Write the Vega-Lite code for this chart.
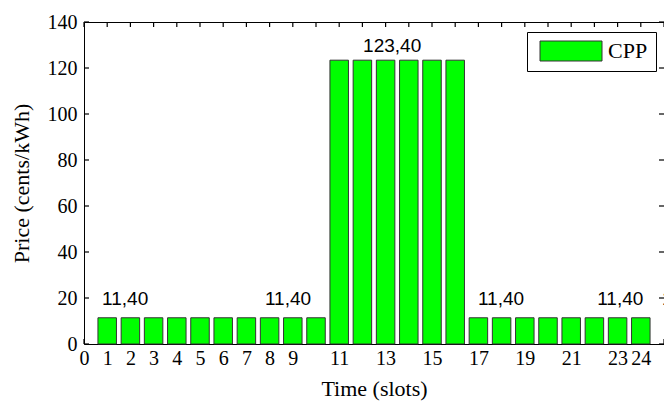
{
  "$schema": "https://vega.github.io/schema/vega-lite/v6.json",
  "width": 580,
  "height": 322,
  "autosize": "none",
  "padding": {"left": 84, "top": 22, "right": 0, "bottom": 59},
  "background": "white",
  "config": {
    "view": {"stroke": "black", "strokeWidth": 1},
    "axis": {"labelFont": "Liberation Serif", "titleFont": "Liberation Serif", "labelFontSize": 20, "titleFontSize": 22, "titleFontWeight": "normal", "labelColor": "black", "titleColor": "black", "domain": false, "ticks": false, "grid": false}
  },
  "datasets": {
    "prices": [
      {"slot": 1, "price": 11.4, "series": "CPP"}, {"slot": 2, "price": 11.4, "series": "CPP"},
      {"slot": 3, "price": 11.4, "series": "CPP"}, {"slot": 4, "price": 11.4, "series": "CPP"},
      {"slot": 5, "price": 11.4, "series": "CPP"}, {"slot": 6, "price": 11.4, "series": "CPP"},
      {"slot": 7, "price": 11.4, "series": "CPP"}, {"slot": 8, "price": 11.4, "series": "CPP"},
      {"slot": 9, "price": 11.4, "series": "CPP"}, {"slot": 10, "price": 11.4, "series": "CPP"},
      {"slot": 11, "price": 123.4, "series": "CPP"}, {"slot": 12, "price": 123.4, "series": "CPP"},
      {"slot": 13, "price": 123.4, "series": "CPP"}, {"slot": 14, "price": 123.4, "series": "CPP"},
      {"slot": 15, "price": 123.4, "series": "CPP"}, {"slot": 16, "price": 123.4, "series": "CPP"},
      {"slot": 17, "price": 11.4, "series": "CPP"}, {"slot": 18, "price": 11.4, "series": "CPP"},
      {"slot": 19, "price": 11.4, "series": "CPP"}, {"slot": 20, "price": 11.4, "series": "CPP"},
      {"slot": 21, "price": 11.4, "series": "CPP"}, {"slot": 22, "price": 11.4, "series": "CPP"},
      {"slot": 23, "price": 11.4, "series": "CPP"}, {"slot": 24, "price": 11.4, "series": "CPP"}
    ],
    "labels": [
      {"lx": 0.78, "ly": 17, "text": "11,40"},
      {"lx": 7.8, "ly": 17, "text": "11,40"},
      {"lx": 12.03, "ly": 127, "text": "123,40"},
      {"lx": 16.98, "ly": 17, "text": "11,40"},
      {"lx": 22.12, "ly": 17, "text": "11,40"},
      {"lx": 24.91, "ly": 17, "text": "11,40"}
    ],
    "xticks": [
      {"t": 0}, {"t": 1}, {"t": 2}, {"t": 3}, {"t": 4}, {"t": 5}, {"t": 6}, {"t": 7}, {"t": 8}, {"t": 9},
      {"t": 10}, {"t": 11}, {"t": 12}, {"t": 13}, {"t": 14}, {"t": 15}, {"t": 16}, {"t": 17}, {"t": 18},
      {"t": 19}, {"t": 20}, {"t": 21}, {"t": 22}, {"t": 23}, {"t": 24}, {"t": 25}
    ],
    "yticks": [
      {"v": 0}, {"v": 20}, {"v": 40}, {"v": 60}, {"v": 80}, {"v": 100}, {"v": 120}, {"v": 140}
    ]
  },
  "resolve": {"axis": {"x": "independent", "y": "independent"}},
  "layer": [
    {
      "data": {"name": "xticks"},
      "mark": {"type": "tick", "orient": "vertical", "size": 5, "thickness": 1.2, "color": "black", "opacity": 1, "yOffset": -2.5},
      "encoding": {
        "x": {"field": "t", "type": "quantitative", "scale": {"domain": [0, 25], "nice": false, "padding": 0, "zero": false},
              "axis": {"orient": "bottom", "title": "Time (slots)", "values": [0,1,2,3,4,5,6,7,8,9,11,13,15,17,19,21,23,24], "labelPadding": 4, "titlePadding": 10, "labelFlush": false, "labelOverlap": false}},
        "y": {"datum": 0, "type": "quantitative", "scale": {"domain": [0, 140], "nice": false, "padding": 0},
              "axis": {"orient": "left", "title": "Price (cents/kWh)", "values": [0,20,40,60,80,100,120,140], "labelPadding": 7, "titlePadding": 14, "labelFlush": false}}
      }
    },
    {
      "data": {"name": "prices"},
      "mark": {"type": "bar", "width": 18.5, "stroke": "#333333", "strokeWidth": 1},
      "encoding": {
        "x": {"field": "slot", "type": "quantitative", "axis": null},
        "y": {"field": "price", "type": "quantitative", "axis": null},
        "color": {"field": "series", "type": "nominal", "scale": {"range": ["#00ff00"]},
                  "legend": {"title": null, "orient": "none", "legendX": 443, "legendY": 10, "direction": "vertical",
                             "strokeColor": "black", "fillColor": "white", "padding": 8,
                             "symbolType": "M-0.6,-1H5.6V1H-0.6Z", "symbolSize": 400, "symbolStrokeColor": "#333333", "symbolStrokeWidth": 1, "symbolOpacity": 1,
                             "labelFont": "Liberation Serif", "labelFontSize": 22, "labelColor": "black", "labelOffset": 51}}
      }
    },
    {
      "data": {"name": "xticks"},
      "mark": {"type": "tick", "orient": "vertical", "size": 5, "thickness": 1.2, "color": "black", "opacity": 1, "yOffset": 2.5},
      "encoding": {
        "x": {"field": "t", "type": "quantitative", "axis": null},
        "y": {"datum": 140, "type": "quantitative", "axis": null}
      }
    },
    {
      "data": {"name": "yticks"},
      "mark": {"type": "tick", "orient": "horizontal", "size": 5, "thickness": 1.2, "color": "black", "opacity": 1, "xOffset": 2.5},
      "encoding": {
        "x": {"datum": 0, "type": "quantitative", "axis": null},
        "y": {"field": "v", "type": "quantitative", "axis": null}
      }
    },
    {
      "data": {"name": "yticks"},
      "mark": {"type": "tick", "orient": "horizontal", "size": 5, "thickness": 1.2, "color": "black", "opacity": 1, "xOffset": -2.5},
      "encoding": {
        "x": {"datum": 25, "type": "quantitative", "axis": null},
        "y": {"field": "v", "type": "quantitative", "axis": null}
      }
    },
    {
      "data": {"name": "labels"},
      "mark": {"type": "text", "align": "left", "baseline": "alphabetic", "font": "Liberation Sans", "fontSize": 19, "color": "black"},
      "encoding": {
        "x": {"field": "lx", "type": "quantitative", "axis": null},
        "y": {"field": "ly", "type": "quantitative", "axis": null},
        "text": {"field": "text", "type": "nominal"}
      }
    }
  ]
}
